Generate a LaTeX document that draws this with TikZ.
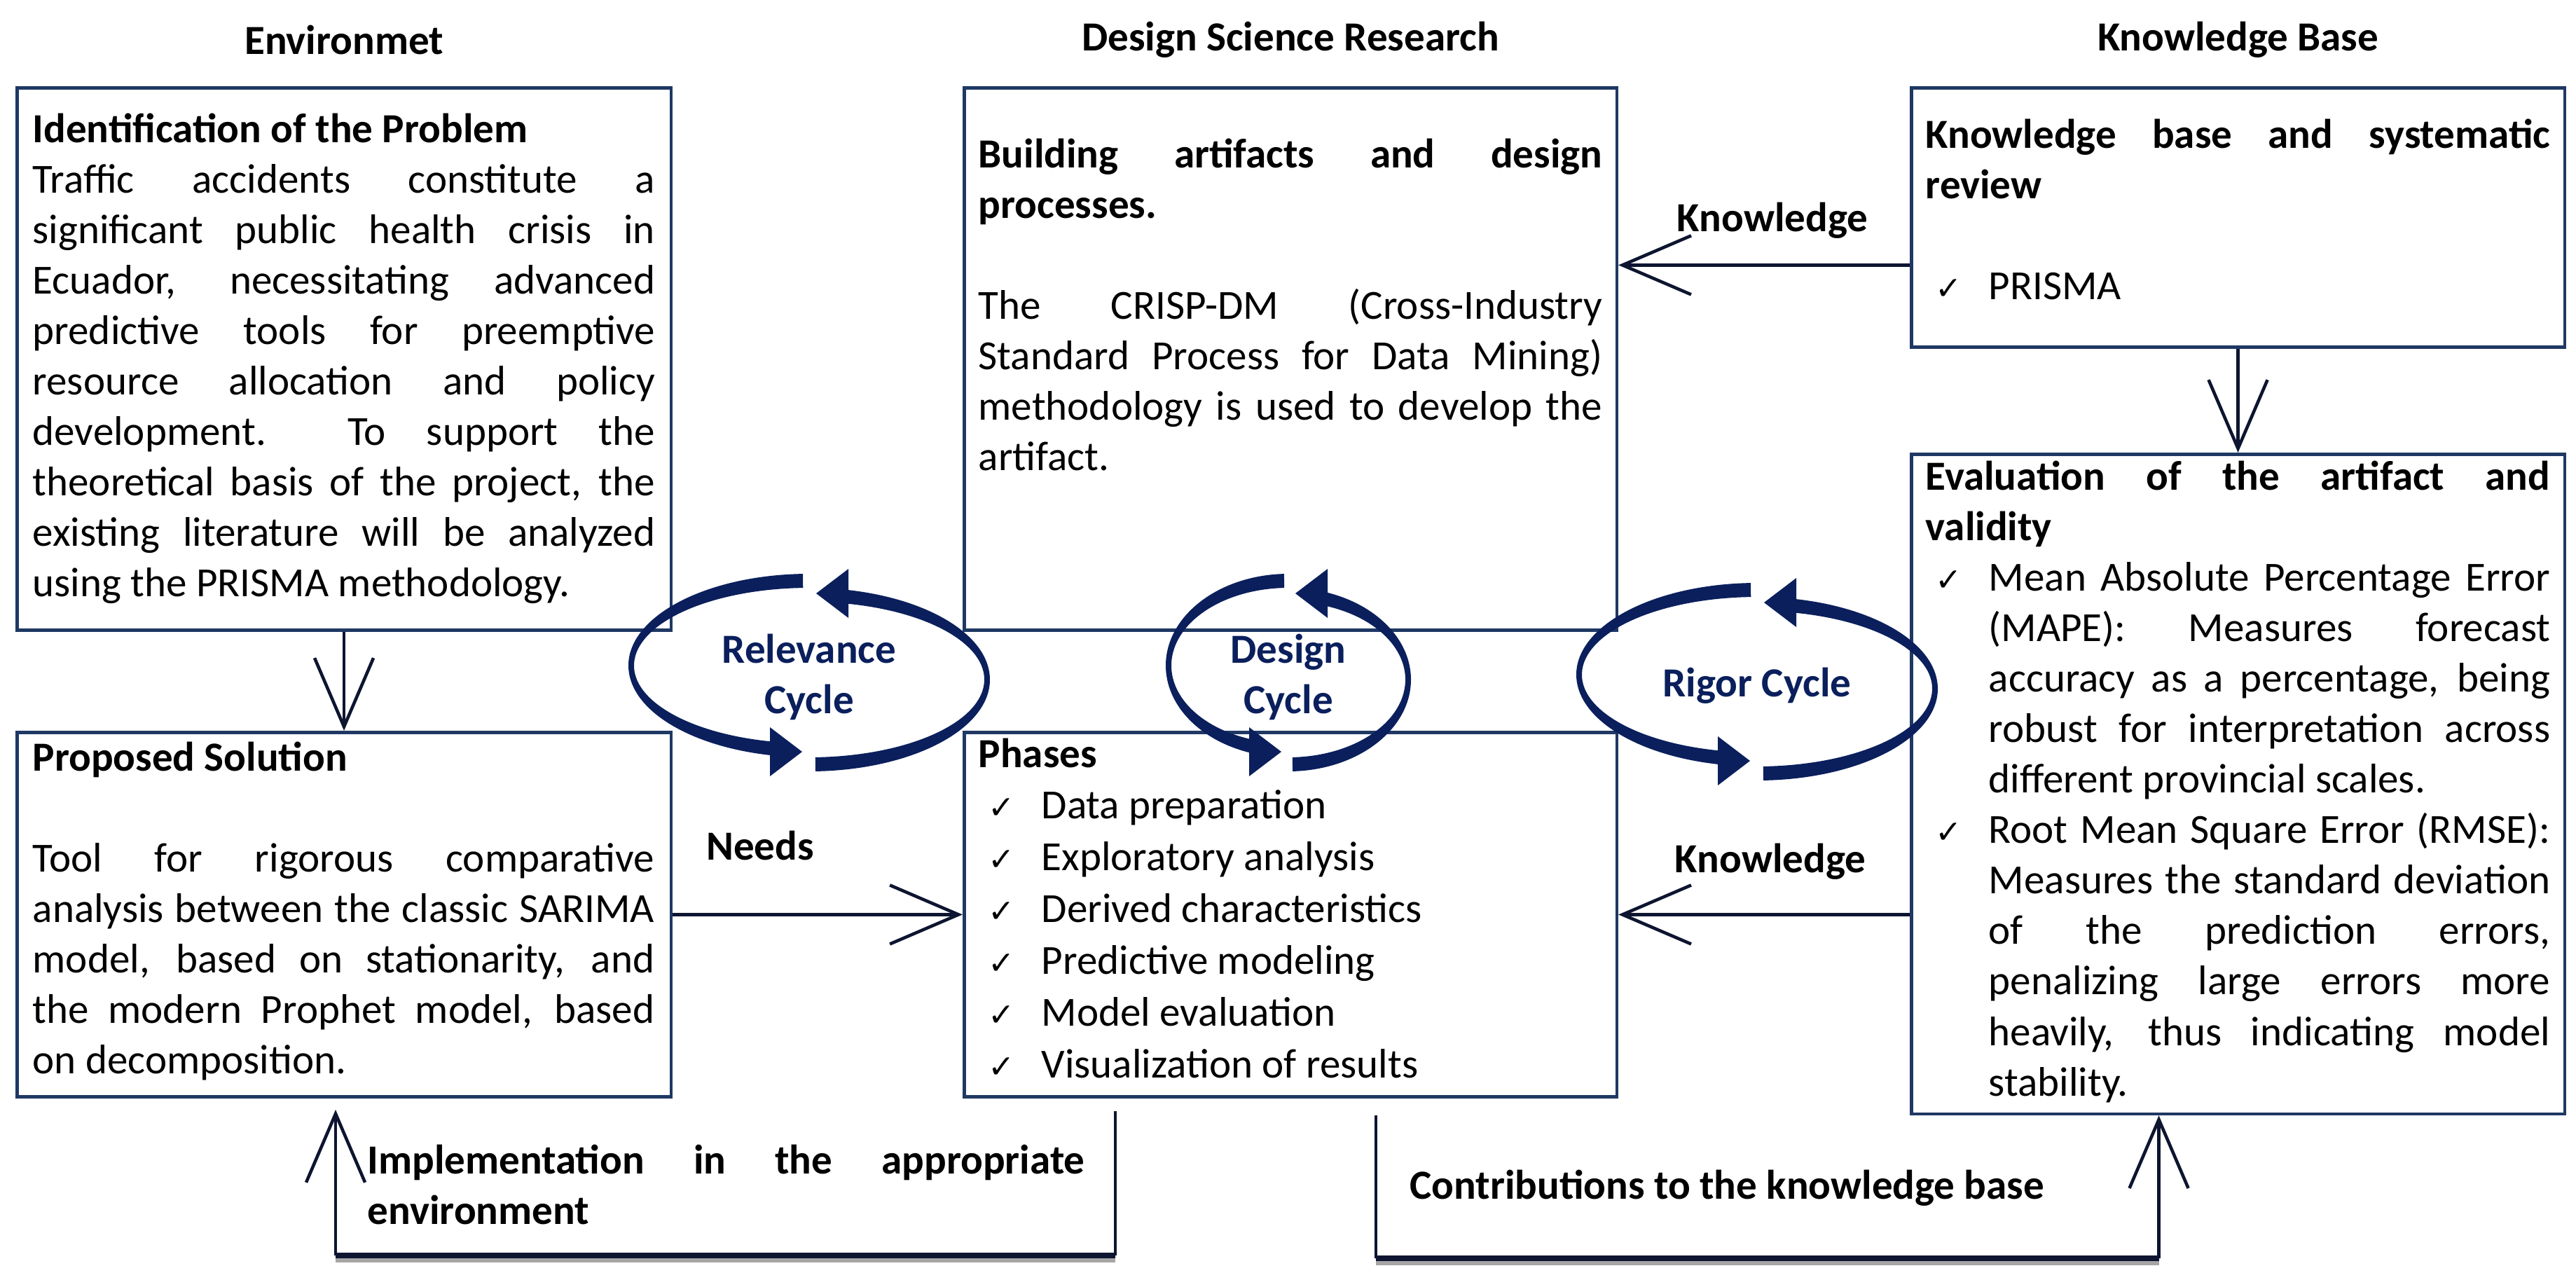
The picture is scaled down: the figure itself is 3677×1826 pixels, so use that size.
\documentclass[tikz,border=0pt]{standalone}
\usepackage{fontspec}
\setmainfont{Carlito}
\newfontfamily\checkfont{DejaVu Sans}
\usepackage{tikz}
\usetikzlibrary{arrows.meta,positioning,calc}
\definecolor{boxblue}{HTML}{1F3864}
\definecolor{cycblue}{HTML}{0A1F5C}
\definecolor{arrowink}{HTML}{0D1530}

% one ticked entry with hanging indent
\newcommand{\chk}[1]{\par\noindent\hangindent=0.9cm\hangafter=1\makebox[0.9cm][l]{\hspace{0.14cm}{\checkfont\fontsize{13}{13}\selectfont ✓}}#1\par}

% two crescent arrows round a cycle label
\newcommand{\cyclearrows}[5]{%
  \pgfmathsetmacro{\cyang}{acos(56/#4)}%
  \pgfmathsetmacro{\cyrin}{#4-8}%
  \fill[cyc] ({#2+#4*cos(268)},{#3-10+131*sin(268)}) arc[start angle=268, end angle={180-\cyang}, x radius=#4, y radius=131]
    -- ({#2+\cyrin*cos(180-\cyang)},{#3-10+111*sin(180-\cyang)}) arc[start angle={180-\cyang}, end angle=268, x radius=\cyrin, y radius=111] -- cycle;
  \fill[cyc] ({#2-56},{#3+78}) -- ({#2-10},{#3+113}) -- ({#2-56},{#3+148}) -- cycle;
  \fill[cyc] ({#2+#4*cos(88)},{#3+10+131*sin(88)}) arc[start angle=88, end angle={-\cyang}, x radius=#4, y radius=131]
    -- ({#2+\cyrin*cos(-\cyang)},{#3+10+111*sin(-\cyang)}) arc[start angle={-\cyang}, end angle=88, x radius=\cyrin, y radius=111] -- cycle;
  \fill[cyc] ({#2+56},{#3-78}) -- ({#2+10},{#3-113}) -- ({#2+56},{#3-148}) -- cycle;
  \node[cyclbl] (#1) at (#2,{#3+6}) {#5};
}

\begin{document}
\begin{tikzpicture}[x=0.01cm, y=-0.01cm,
  execute at begin picture={\fontsize{16.8}{20.5}\selectfont},
  panel/.style={draw=boxblue, line width=1.3pt, anchor=north west, inner sep=0pt},
  body/.style={anchor=base west, inner sep=0pt, align=justify},
  head/.style={font=\bfseries, inner sep=0pt},
  lbl/.style={font=\bfseries, inner sep=0pt},
  cyc/.style={fill=cycblue},
  cyclbl/.style={font=\bfseries, text=cycblue, align=center, inner sep=0pt},
  arr/.style={draw=arrowink, line width=1.3pt, -{Straight Barb[length=0.98cm, width=0.84cm]}},
  loopln/.style={draw=arrowink, line width=1.3pt},
  baseln/.style={draw=arrowink, line width=2.4pt},
  shadowln/.style={draw=black!35, line width=1.6pt}]
  \useasboundingbox (0,0) rectangle (3677,1826);

  % panels
  \node[panel, minimum width=9.33cm, minimum height=7.74cm] (ident) at (22,123) {};
  \node[panel, minimum width=9.31cm, minimum height=7.74cm] (build) at (1374,123) {};
  \node[panel, minimum width=9.32cm, minimum height=3.70cm] (kb) at (2726,123) {};
  \node[panel, minimum width=9.32cm, minimum height=9.41cm] (evalbox) at (2726,646) {};
  \node[panel, minimum width=9.33cm, minimum height=5.20cm] (propose) at (22,1043) {};
  \node[panel, minimum width=9.31cm, minimum height=5.20cm] (phases) at (1374,1043) {};

  % column heads
  \node[head] (envhead) at ($(ident.north)+(0,-66)$) {Environmet};
  \node[head] (dsrhead) at ($(build.north)+(0,-66)$) {Design Science Research};
  \node[head] (kbhead) at ($(kb.north)+(0,-66)$) {Knowledge Base};

  % panel texts
  \node[body, text width=8.88cm] (identtxt) at ($(ident.north west)+(24,80)$) {\textbf{Identification of the Problem}\par
    Traffic accidents constitute a\linebreak significant public health crisis in\linebreak Ecuador, necessitating advanced\linebreak predictive tools for preemptive\linebreak resource allocation and policy\linebreak development.\ \ To support the\linebreak theoretical basis of the project, the\linebreak existing literature will be analyzed\linebreak using the PRISMA methodology.};
  \node[body, text width=8.90cm] (buildtxt) at ($(build.north west)+(22,116)$) {\textbf{Building artifacts and design\linebreak processes.}\par\mbox{}\par
    The CRISP-DM (Cross-Industry\linebreak Standard Process for Data Mining)\linebreak methodology is used to develop the\linebreak artifact.};
  \node[body, text width=8.91cm] (kbtxt) at ($(kb.north west)+(22,88)$) {\textbf{Knowledge base and systematic\linebreak review}\par\mbox{}\par
    \chk{PRISMA}};
  \node[body, text width=8.91cm] (evaltxt) at ($(evalbox.north west)+(22,53)$) {\textbf{Evaluation of the artifact and\linebreak validity}
    \chk{Mean Absolute Percentage Error\linebreak (MAPE): Measures forecast\linebreak accuracy as a percentage, being\linebreak robust for interpretation across\linebreak different provincial scales.}
    \chk{Root Mean Square Error (RMSE):\linebreak Measures the standard deviation\linebreak of the prediction errors,\linebreak penalizing large errors more\linebreak heavily, thus indicating model\linebreak stability.}};
  \node[body, text width=8.87cm] (proposetxt) at ($(propose.north west)+(24,57)$) {\textbf{Proposed Solution}\par\mbox{}\par
    Tool for rigorous comparative\linebreak analysis between the classic SARIMA\linebreak model, based on stationarity, and\linebreak the modern Prophet model, based\linebreak on decomposition.};
  \node[body, text width=8.90cm, font=\fontsize{16.8}{21}\selectfont] (phasestxt) at ($(phases.north west)+(22,52)$) {\textbf{Phases}
    \chk{Data preparation}\chk{Exploratory analysis}\chk{Derived characteristics}
    \chk{Predictive modeling}\chk{Model evaluation}\chk{Visualization of results}};

  % the three cycles
  \cyclearrows{relcycle}{1155}{960}{258}{Relevance\\Cycle}
  \cyclearrows{descycle}{1839}{960}{175}{Design\\Cycle}
  \cyclearrows{rigcycle}{2508}{973}{258}{Rigor Cycle}

  % flows between panels
  \draw[arr] (ident) -- (propose);
  \draw[arr] (kb) -- (evalbox);
  \draw[arr] (propose) -- (phases);
  \coordinate (kbout) at ($(kb.west)+(0,68)$);
  \draw[arr] (kbout) -- (kbout -| build.east);
  \draw[arr] (evalbox.west |- phases) -- (phases.east);
  \node[lbl] (knowup) at (2530,315) {Knowledge};
  \node[lbl] (knowdown) at (2527,1230) {Knowledge};
  \node[lbl] (needs) at (1085,1207) {Needs};

  % loop back to the environment
  \coordinate (implstart) at ($(phases.south)+(-250,18)$);
  \coordinate (implup) at ($(propose.south)+(-12,0)$);
  \coordinate (implr) at (implstart |- 0,1792);
  \coordinate (impll) at (implup |- 0,1792);
  \draw[shadowln] ($(implr)+(0,7)$) -- ($(impll)+(0,7)$);
  \draw[loopln] (implstart) -- (implr);
  \draw[baseln] (implr) -- (impll);
  \draw[arr, shorten >=0.16cm] (impll) -- (implup);
  \node[lbl, anchor=base west, text width=10.23cm, align=justify] (implement) at (524,1675) {Implementation in the appropriate\linebreak environment};

  % loop to the knowledge base
  \coordinate (contstart) at ($(phases.south)+(122,24)$);
  \coordinate (contup) at ($(evalbox.south)+(-113,0)$);
  \coordinate (contl) at (contstart |- 0,1796);
  \coordinate (contr) at (contup |- 0,1796);
  \draw[shadowln] ($(contl)+(0,7)$) -- ($(contr)+(0,7)$);
  \draw[loopln] (contstart) -- (contl);
  \draw[baseln] (contl) -- (contr);
  \draw[arr] (contr) -- (contup);
  \node[lbl, anchor=base west] (contrib) at (2012,1711) {Contributions to the knowledge base};
\end{tikzpicture}
\end{document}
